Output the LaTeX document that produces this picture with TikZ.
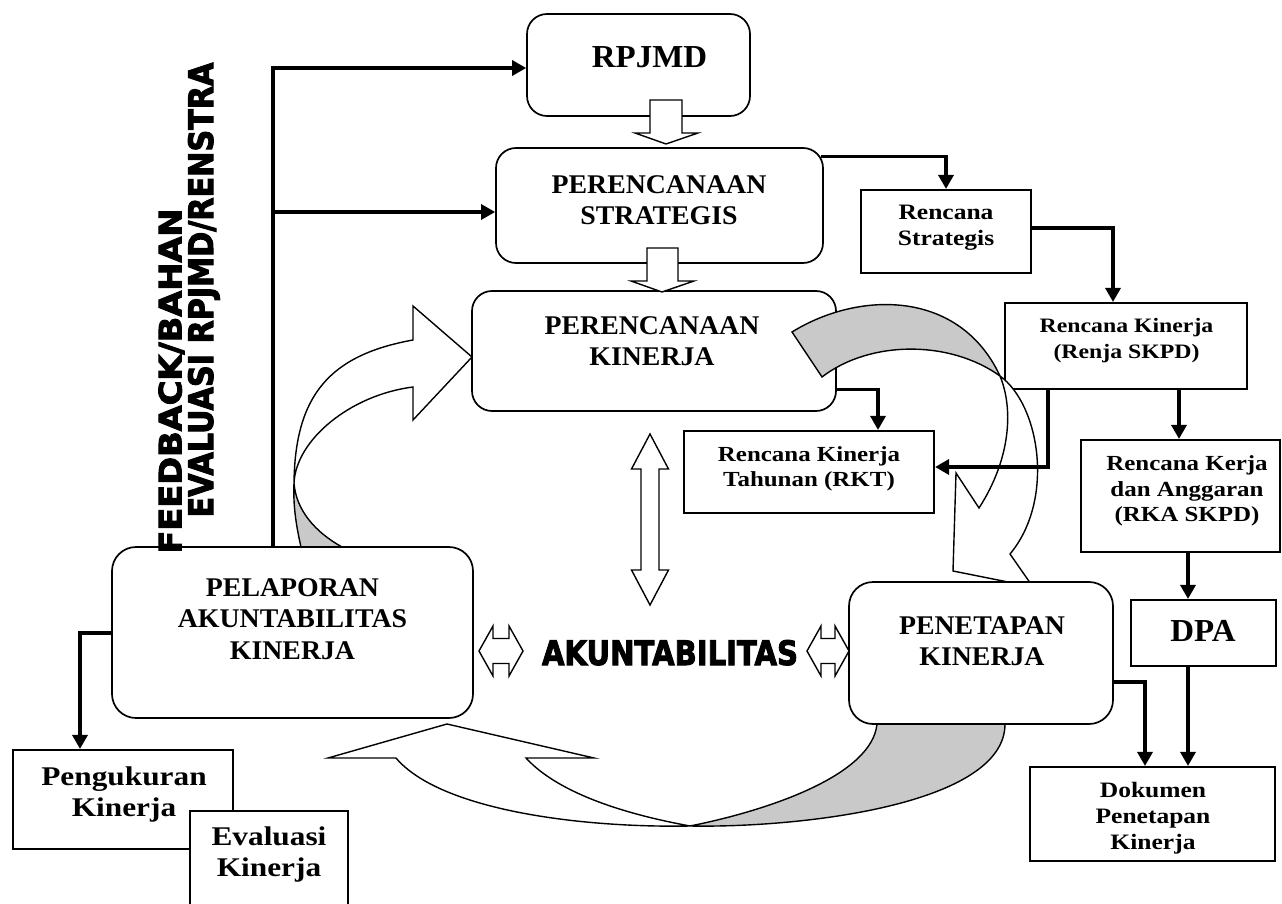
\documentclass[tikz,border=0pt]{standalone}
\usepackage{fontspec}
\setmainfont{Liberation Serif}[FakeStretch=1.03]
\newfontfamily\widefont{Liberation Serif}[FakeStretch=1.16]
\newfontfamily\impactfont{DejaVu Sans}[BoldFeatures={FakeBold=3}]
\usetikzlibrary{arrows.meta}
\newcommand\fsz[2]{\fontsize{#1}{#2}\selectfont}
\newcommand\heavytext[3]{\resizebox{#1}{#2}{\raisebox{0pt}[\height][0pt]{\impactfont\bfseries #3}}}
\begin{document}
\begin{tikzpicture}[x=1pt,y=-1pt,
  rbox/.style={draw, line width=1.7pt, fill=white, rounded corners=20pt, inner sep=0pt},
  sbox/.style={draw, line width=2.1pt, fill=white, inner sep=0pt},
  txt/.style={align=center, inner sep=0pt},
  conn/.style={line width=3.2pt, -{Triangle[length=14pt,width=15pt]}},
  blk/.style={draw, line width=1.4pt, fill=white, line join=miter},
  curv/.style={line width=1.4pt, line join=miter},
  shd/.style={fill=black!21}]
\useasboundingbox (0,0) rectangle (1282,904);
\fill[white] (0,0) rectangle (1282,904);

% ---------- boxes (first layer)
\node[rbox, minimum width=223pt, minimum height=102pt] (rpjmd) at (638.5,65) {};
\node[rbox, minimum width=327pt, minimum height=115pt] (ps) at (659.5,205.5) {};
\node[rbox, minimum width=364pt, minimum height=120pt] (pk) at (654,351) {};
\node[sbox, minimum width=170pt, minimum height=83pt] (rs) at (946,231.5) {};
\node[sbox, minimum width=242pt, minimum height=86pt] (renja) at (1126,346) {};
\node[sbox, minimum width=250pt, minimum height=82pt] (rkt) at (809,472) {};
\node[sbox, minimum width=199pt, minimum height=112pt] (rka) at (1180.5,496) {};
\node[sbox, minimum width=145pt, minimum height=66pt] (dpa) at (1203.5,633) {};
\node[sbox, minimum width=245pt, minimum height=94pt] (dok) at (1152.5,814) {};
\node[sbox, minimum width=220pt, minimum height=99pt] (peng) at (123,799.5) {};
\node[sbox, minimum width=158pt, minimum height=101pt] (eva) at (269,861.5) {};

% ---------- texts
\node[txt, font=\bfseries\fsz{32}{36}] (t-rpjmd) at (649.5,57.5) {RPJMD};
\node[txt, font=\bfseries\fsz{27}{31}] (t-ps) at (659,200.5) {PERENCANAAN\\STRATEGIS};
\node[txt, font=\bfseries\fsz{27}{31}] (t-pk) at (652,341.5) {PERENCANAAN\\KINERJA};
\node[txt, font=\widefont\bfseries\fsz{22}{25.5}] (t-rs) at (946,227.5) {Rencana\\Strategis};
\node[txt, font=\widefont\bfseries\fsz{20.5}{26}] (t-renja) at (1126.5,340.5) {Rencana Kinerja\\(Renja SKPD)};
\node[txt, font=\widefont\bfseries\fsz{21.5}{25}] (t-rkt) at (809,469) {Rencana Kinerja\\Tahunan (RKT)};
\node[txt, font=\widefont\bfseries\fsz{21.5}{25.5}] (t-rka) at (1187,491) {Rencana Kerja\\dan Anggaran\\(RKA SKPD)};
\node[txt, font=\bfseries\fsz{32}{36}] (t-dpa) at (1203,630.5) {DPA};
\node[txt, font=\widefont\bfseries\fsz{22}{26}] (t-dok) at (1153,818) {Dokumen\\Penetapan\\Kinerja};
\node[txt, font=\widefont\bfseries\fsz{27}{30.5}] (t-peng) at (124,794.5) {Pengukuran\\Kinerja};
\node[txt, font=\widefont\bfseries\fsz{27}{30.5}] (t-eva) at (269,854.5) {Evaluasi\\Kinerja};

% ---------- straight hollow arrows
\draw[blk] (650,100) -- (682,100) -- (682,133) -- (698,133) -- (666,144) -- (635,133) -- (650,133) -- cycle;
\draw[blk] (647,248) -- (678,248) -- (678,281) -- (694,281) -- (662,292) -- (631,281) -- (647,281) -- cycle;

% ---------- curved arrow: pelaporan -> perencanaan kinerja
\fill[white] (294,483) .. controls (295,395) and (330,355) .. (413,340) -- (413,306) -- (472,357) -- (413,420) -- (413,387) .. controls (350,395) and (296,440) .. (294,483) -- cycle;
\fill[shd] (294,483) .. controls (293,505) and (296,525) .. (301,547) -- (342,547) .. controls (315,532) and (296,510) .. (294,483) -- cycle;
\draw[curv] (301,547) .. controls (296,525) and (293,505) .. (294,483) .. controls (295,395) and (330,355) .. (413,340) -- (413,306) -- (472,357) -- (413,420) -- (413,387) .. controls (350,395) and (296,440) .. (294,483) .. controls (296,510) and (315,532) .. (342,547);

% ---------- curved arrow: perencanaan kinerja -> penetapan
\fill[white] (1000,376) .. controls (1040,405) and (1055,500) .. (1010,554) -- (1033,587) -- (953,571) -- (956,473) -- (979,508) .. controls (1010,460) and (1014,410) .. (1000,376) -- cycle;
\fill[shd] (792,332) .. controls (860,290) and (960,290) .. (1000,376) .. controls (950,340) and (870,340) .. (822,377) -- cycle;
\draw[curv] (822,377) -- (792,332) .. controls (860,290) and (960,290) .. (1000,376) .. controls (1014,410) and (1010,460) .. (979,508) -- (956,473) -- (953,571) -- (1033,587) -- (1010,554) .. controls (1055,500) and (1040,405) .. (1000,376) .. controls (950,340) and (870,340) .. (822,377) -- cycle;

% ---------- curved arrow: penetapan -> pelaporan
\fill[white] (396,758) -- (328,758) -- (447,724) -- (594,758) -- (526,758) .. controls (560,795) and (630,815) .. (690,826) .. controls (580,828) and (440,810) .. (396,758) -- cycle;
\fill[shd] (690,826) .. controls (800,828) and (1005,805) .. (1005,724) -- (877,724) .. controls (872,775) and (770,810) .. (690,826) -- cycle;
\draw[curv] (1005,724) .. controls (1005,805) and (800,828) .. (690,826) .. controls (580,828) and (440,810) .. (396,758) -- (328,758) -- (447,724) -- (594,758) -- (526,758) .. controls (560,795) and (630,815) .. (690,826) .. controls (770,810) and (872,775) .. (877,724);

% ---------- boxes (top layer)
\node[rbox, rounded corners=24pt, minimum width=361pt, minimum height=171pt] (pel) at (292.5,632.5) {};
\node[rbox, rounded corners=24pt, minimum width=264pt, minimum height=142pt] (pen) at (981,653) {};
\node[txt, font=\bfseries\fsz{27}{31.5}] (t-pel) at (292.5,619) {PELAPORAN\\AKUNTABILITAS\\KINERJA};
\node[txt, font=\bfseries\fsz{27}{31}] (t-pen) at (982,641.5) {PENETAPAN\\KINERJA};

% ---------- double arrows
\draw[blk] (650,434) -- (668.5,469) -- (659,469) -- (659,570) -- (668.5,570) -- (650,605) -- (631.5,570) -- (641,570) -- (641,469) -- (631.5,469) -- cycle;
\draw[blk] (479,651) -- (493,626) -- (493,638.5) -- (509,638.5) -- (509,626) -- (523,651) -- (509,676) -- (509,663.5) -- (493,663.5) -- (493,676) -- cycle;
\draw[blk] (807,651) -- (821,626) -- (821,638.5) -- (835,638.5) -- (835,626) -- (849,651) -- (835,676) -- (835,663.5) -- (821,663.5) -- (821,676) -- cycle;

% ---------- heavy texts
\node[inner sep=0pt] (akt) at (670,652.5) {\heavytext{256pt}{25pt}{AKUNTABILITAS}};
\node[inner sep=0pt, rotate=90] (fb1) at (170,381) {\heavytext{345pt}{23pt}{FEEDBACK/BAHAN}};
\node[inner sep=0pt, rotate=90] (fb2) at (200.5,290) {\heavytext{455pt}{25pt}{EVALUASI RPJMD/RENSTRA}};

% ---------- connectors
\coordinate (fbtop) at (273,68);
\coordinate (fbmid) at (273,212);
\draw[conn] (pel.north -| fbtop) -- (fbtop) -- (rpjmd.west |- fbtop);
\draw[conn] (fbmid) -- (ps.west |- fbmid);
\draw[conn] ([xshift=-3pt,yshift=-9pt]ps.north east) -| (rs.north);
\draw[conn] ([yshift=3.5pt]rs.east) -| ([xshift=-13pt]renja.north);
\draw[conn] ([yshift=22pt]pk.south east) -| ([xshift=69pt]rkt.north);
\draw[conn] ([xshift=44pt]renja.south west) |- ([yshift=5pt]rkt.east);
\draw[conn] ([xshift=53pt]renja.south) -- ([xshift=53pt]renja.south |- rka.north);
\draw[conn] ([xshift=7.5pt]rka.south) -- ([xshift=7.5pt]rka.south |- dpa.north);
\draw[conn] ([xshift=-15.5pt]dpa.south) -- ([xshift=-15.5pt]dpa.south |- dok.north);
\draw[conn] ([yshift=-29pt]pen.east) -| ([xshift=-7.5pt]dok.north);
\draw[conn] ([yshift=-0.5pt]pel.west) -| ([xshift=-43pt]peng.north);
\end{tikzpicture}
\end{document}
